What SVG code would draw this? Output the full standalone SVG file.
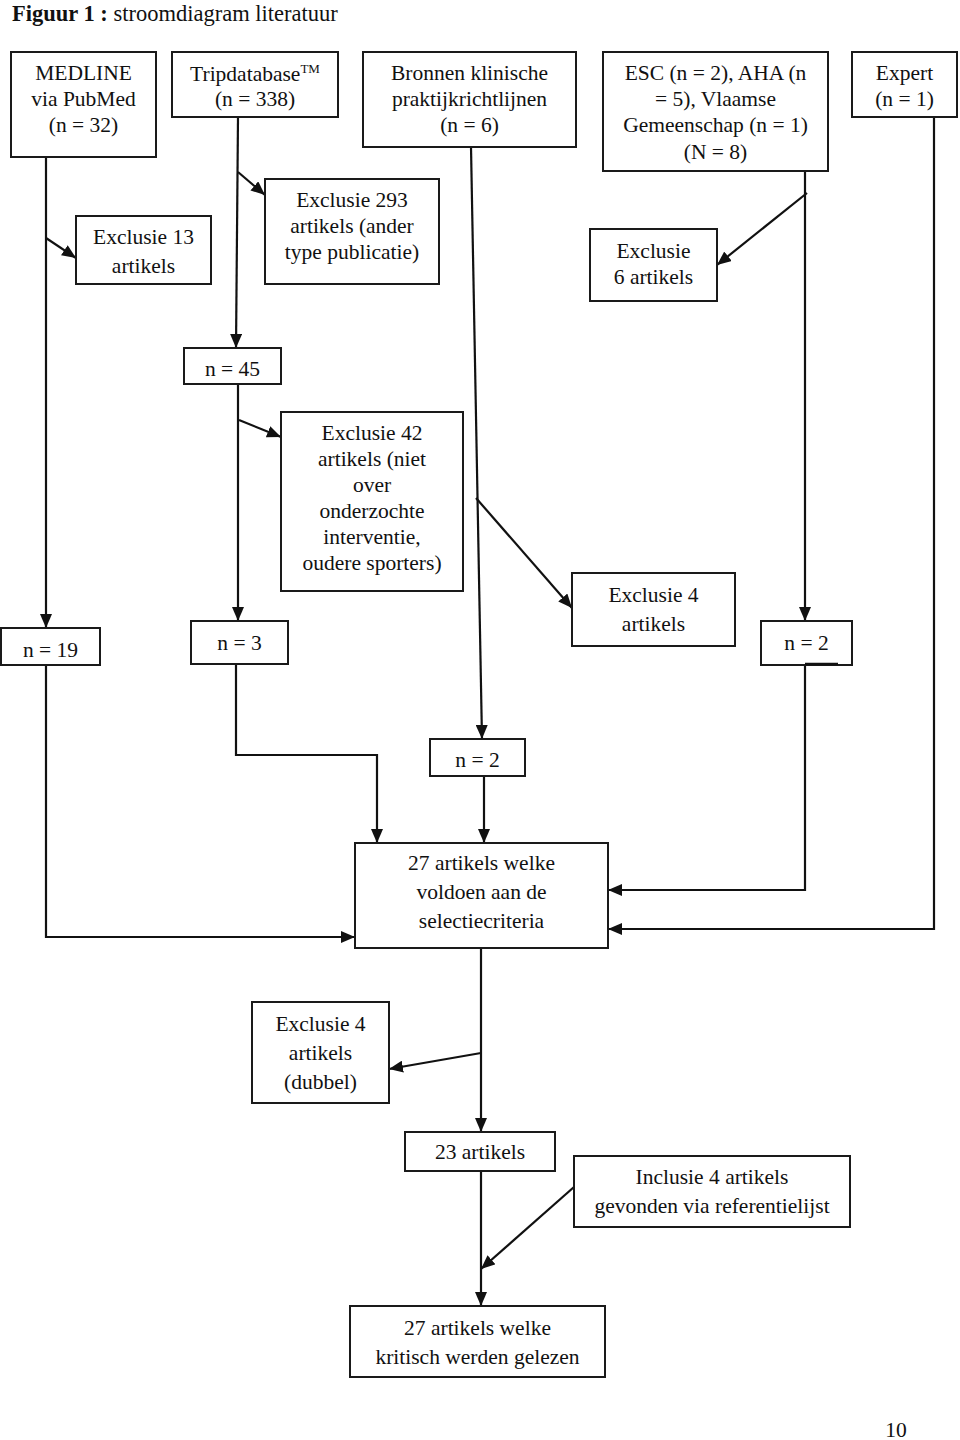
<svg xmlns="http://www.w3.org/2000/svg" width="960" height="1440" viewBox="0 0 960 1440">
<style>
.b{fill:#fff;stroke:#1a1a1a;stroke-width:2}
text{font-family:"Liberation Serif","Times New Roman",serif;font-size:21.5px;fill:#111;text-anchor:middle}
.c{fill:none;stroke:#111;stroke-width:2.2;marker-end:url(#a)}
.t{text-anchor:start;font-size:22.5px}
</style>
<defs>
<marker id="a" markerUnits="userSpaceOnUse" markerWidth="14" markerHeight="12" refX="14" refY="6" orient="auto">
<path d="M0,0 L14,6 L0,12 z" fill="#111"/>
</marker>
</defs>
<rect width="960" height="1440" fill="#fff"/>
<text class="t" x="12" y="20.5"><tspan font-weight="bold">Figuur 1 :</tspan> stroomdiagram literatuur</text>

<g id="connectors">
<path class="c" d="M46,157 V628"/>
<path class="c" d="M46,238 L76,258"/>
<path class="c" d="M238,117 L236,348"/>
<path class="c" d="M238,172 L265,195"/>
<path class="c" d="M471,147 L482,739"/>
<path class="c" d="M476,498 L572,608"/>
<path class="c" d="M805,171 V621"/>
<path class="c" d="M807,193 L717,265"/>
<path class="c" d="M934,117 V929 H608"/>
<path class="c" d="M238,384 V621"/>
<path class="c" d="M239,420 L281,437"/>
<path class="c" d="M46,665 V937 H355"/>
<path class="c" d="M236,664 V755 H377 V843"/>
<path class="c" d="M484,776 V843"/>
<path class="c" d="M805,665 V890 H608"/>
<path class="c" d="M481,948 V1132"/>
<path class="c" d="M481,1053 L389,1069"/>
<path class="c" d="M481,1171 V1306"/>
<path class="c" d="M574,1187 L481,1269"/>
</g>

<g id="medline"><rect class="b" x="11" y="52" width="145" height="105"/><text x="83.5" y="80">MEDLINE</text><text x="83.5" y="106">via PubMed</text><text x="83.5" y="132">(n = 32)</text></g>
<g id="trip"><rect class="b" x="172" y="52" width="166" height="65"/><text x="255" y="81">Tripdatabase<tspan font-size="13" dy="-8">TM</tspan></text><text x="255" y="106">(n = 338)</text></g>
<g id="bronnen"><rect class="b" x="363" y="52" width="213" height="95"/><text x="469.5" y="80">Bronnen klinische</text><text x="469.5" y="106">praktijkrichtlijnen</text><text x="469.5" y="132">(n = 6)</text></g>
<g id="esc"><rect class="b" x="603" y="52" width="225" height="119"/><text x="715.5" y="80">ESC (n = 2), AHA (n</text><text x="715.5" y="106">= 5), Vlaamse</text><text x="715.5" y="132">Gemeenschap (n = 1)</text><text x="715.5" y="159">(N = 8)</text></g>
<g id="expert"><rect class="b" x="852" y="52" width="105" height="65"/><text x="904.5" y="80">Expert</text><text x="904.5" y="106">(n = 1)</text></g>
<g id="excl13"><rect class="b" x="76" y="216" width="135" height="68"/><text x="143.5" y="244">Exclusie 13</text><text x="143.5" y="273">artikels</text></g>
<g id="excl293"><rect class="b" x="265" y="179" width="174" height="105"/><text x="352" y="207">Exclusie 293</text><text x="352" y="233">artikels (ander</text><text x="352" y="259">type publicatie)</text></g>
<g id="excl6"><rect class="b" x="590" y="229" width="127" height="72"/><text x="653.5" y="258">Exclusie</text><text x="653.5" y="284">6 artikels</text></g>
<g id="n45"><rect class="b" x="184" y="348" width="97" height="36"/><text x="232.5" y="376">n = 45</text></g>
<g id="excl42"><rect class="b" x="281" y="412" width="182" height="179"/><text x="372" y="440">Exclusie 42</text><text x="372" y="466">artikels (niet</text><text x="372" y="492">over</text><text x="372" y="518">onderzochte</text><text x="372" y="544">interventie,</text><text x="372" y="570">oudere sporters)</text></g>
<g id="n19"><rect class="b" x="1" y="628" width="99" height="37"/><text x="50.5" y="657">n = 19</text></g>
<g id="n3"><rect class="b" x="191" y="621" width="97" height="43"/><text x="239.5" y="650">n = 3</text></g>
<g id="excl4"><rect class="b" x="572" y="573" width="163" height="73"/><text x="653.5" y="602">Exclusie 4</text><text x="653.5" y="631">artikels</text></g>
<g id="n2r"><rect class="b" x="761" y="621" width="91" height="44"/><text x="806.5" y="650">n = 2</text><path d="M805,664 H838" stroke="#111" stroke-width="2.5"/></g>
<g id="n2c"><rect class="b" x="430" y="739" width="95" height="37"/><text x="477.5" y="767">n = 2</text></g>
<g id="sel27"><rect class="b" x="355" y="843" width="253" height="105"/><text x="481.5" y="870">27 artikels welke</text><text x="481.5" y="899">voldoen aan de</text><text x="481.5" y="928">selectiecriteria</text></g>
<g id="dubbel"><rect class="b" x="252" y="1002" width="137" height="101"/><text x="320.5" y="1031">Exclusie 4</text><text x="320.5" y="1060">artikels</text><text x="320.5" y="1089">(dubbel)</text></g>
<g id="a23"><rect class="b" x="405" y="1132" width="150" height="39"/><text x="480" y="1159">23 artikels</text></g>
<g id="inclusie"><rect class="b" x="574" y="1156" width="276" height="71"/><text x="712" y="1184">Inclusie 4 artikels</text><text x="712" y="1213">gevonden via referentielijst</text></g>
<g id="krit27"><rect class="b" x="350" y="1306" width="255" height="71"/><text x="477.5" y="1335">27 artikels welke</text><text x="477.5" y="1364">kritisch werden gelezen</text></g>
<text x="896" y="1437">10</text>
</svg>
